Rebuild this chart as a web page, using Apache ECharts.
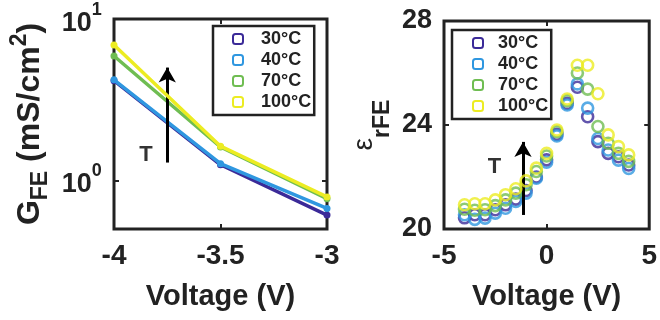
<!DOCTYPE html>
<html><head><meta charset="utf-8">
<script src="https://cdn.jsdelivr.net/npm/echarts@6/dist/echarts.min.js"></script>
<style>html,body{margin:0;padding:0;background:#fff}#c{width:660px;height:320px}</style>
</head><body><div id="c"></div>
<script>
// ---- data ----
const legendNames = ['30°C', '40°C', '70°C', '100°C'];
const colors = ['#3b2a98', '#2f97e0', '#6fbd52', '#ecec22'];
// Left panel: G_FE vs voltage (log scale)
const gVoltage = [-4, -3.5, -3];
const g30 = [4.15, 1.25, 0.61];
const g40 = [4.2, 1.27, 0.67];
const g70 = [5.9, 1.61, 0.77];
const g100 = [6.9, 1.63, 0.79];
const gTicksX = [-4, -3.5, -3];
// Right panel: eps_rFE vs voltage
const eVoltage = [-4, -3.5, -3, -2.5, -2, -1.5, -1, -0.5, 0, 0.5, 1, 1.5, 2, 2.5, 3, 3.5, 4];
const e30  = [20.43, 20.55, 20.55, 20.74, 20.93, 21.15, 21.48, 22.0, 22.66, 23.64, 24.83, 25.45, 24.32, 23.36, 22.91, 22.78, 22.46];
const e40  = [20.55, 20.37, 20.42, 20.61, 20.8, 21.06, 21.38, 21.95, 22.57, 23.58, 24.77, 25.58, 24.65, 23.48, 23.04, 22.65, 22.33];
const e70  = [20.76, 20.72, 20.74, 20.9, 21.12, 21.38, 21.7, 22.21, 22.81, 23.74, 24.93, 26.0, 25.38, 23.94, 23.3, 22.91, 22.6];
const e100 = [20.93, 20.97, 20.97, 21.12, 21.32, 21.55, 21.85, 22.34, 22.91, 23.81, 25.0, 26.3, 26.3, 25.2, 23.62, 23.17, 22.85];
// annotations (data coordinates)
const leftArrow = [[-3.75, 1.29], [-3.75, 5.0]];
const leftT = [-3.85, 1.44];
const rightArrow = [[-1.15, 20.54], [-1.15, 23.35]];
const rightT = [-2.54, 22.4];

const FONT = '"Liberation Sans", Arial, sans-serif';
const TXT = '#222';
const gSeries = [g30, g40, g70, g100];
const eSeries = [e30, e40, e70, e100];

function makeLegend(left, top, padLeft, gap) {
  return {
    left: left, top: top, padding: [4, 3, 4, padLeft],
    orient: 'vertical', icon: 'roundRect', itemWidth: 10, itemHeight: 10,
    itemGap: 3, borderColor: '#222', borderWidth: 2.5, backgroundColor: '#fff',
    formatter: n => '{g| }' + n,
    textStyle: { fontFamily: FONT, fontSize: 18, fontWeight: 'bold', color: TXT,
      rich: { g: { width: gap, fontSize: 18 } } },
    data: legendNames.map((n, i) => ({ name: n, itemStyle: { color: 'rgba(0,0,0,0)', borderColor: colors[i], borderWidth: 2 } }))
  };
}
const tick = { inside: true, length: 5, lineStyle: { color: '#222', width: 2 } };
const noLine = { show: false, onZero: false };

const option = {
  backgroundColor: '#fff',
  animation: false,
  textStyle: { fontFamily: FONT },
  grid: [
    { left: 114, right: 333, top: 19, bottom: 91, show: true, borderColor: '#222', borderWidth: 3, backgroundColor: 'transparent' },
    { left: 444, right: 5, top: 21, bottom: 91, show: true, borderColor: '#222', borderWidth: 3, backgroundColor: 'transparent' }
  ],
  legend: [ makeLegend(213, 26, 19, 13), makeLegend(452, 30, 20, 10) ],
  xAxis: [
    { gridIndex: 0, type: 'value', min: gTicksX[0], max: gTicksX[gTicksX.length - 1], interval: 0.5,
      name: 'Voltage (V)', nameLocation: 'middle', nameGap: 53,
      nameTextStyle: { fontSize: 29, fontWeight: 'bold', color: TXT },
      axisLine: noLine, splitLine: { show: false }, axisTick: tick,
      axisLabel: { margin: 13, fontSize: 28, fontWeight: 'bold', color: TXT, formatter: v => String(v) } },
    { gridIndex: 1, type: 'value', min: -5, max: 5, interval: 5,
      name: 'Voltage (V)', nameLocation: 'middle', nameGap: 53,
      nameTextStyle: { fontSize: 29, fontWeight: 'bold', color: TXT },
      axisLine: noLine, splitLine: { show: false }, axisTick: tick,
      axisLabel: { margin: 13, fontSize: 28, fontWeight: 'bold', color: TXT } },
    // mirrored ticks on top edges
    { gridIndex: 0, type: 'value', position: 'top', min: gTicksX[0], max: gTicksX[gTicksX.length - 1], interval: 0.5,
      axisLine: noLine, splitLine: { show: false }, axisTick: tick, axisLabel: { show: false } },
    { gridIndex: 1, type: 'value', position: 'top', min: -5, max: 5, interval: 5,
      axisLine: noLine, splitLine: { show: false }, axisTick: tick, axisLabel: { show: false } }
  ],
  yAxis: [
    { gridIndex: 0, type: 'log', logBase: 10, min: 0.5, max: 10,
      name: '{m|G}{sub|FE}{m| (mS/cm}{sup|2}{m|)}', nameLocation: 'middle', nameRotate: 90, nameGap: 62,
      nameTextStyle: { color: TXT,
        rich: {
          m: { fontSize: 32, fontWeight: 'bold', color: TXT, lineHeight: 44, verticalAlign: 'middle' },
          sub: { fontSize: 23, fontWeight: 'bold', color: TXT, lineHeight: 22, verticalAlign: 'bottom' },
          sup: { fontSize: 23, fontWeight: 'bold', color: TXT, lineHeight: 26, verticalAlign: 'top' }
        } },
      axisLine: noLine, splitLine: { show: false }, axisTick: tick,
      axisLabel: { margin: 12, color: TXT,
        formatter: function (v) {
          const l = Math.log10(v), e = Math.round(l);
          if (Math.abs(l - e) > 1e-6) return '';
          return '{b|10}{s|' + e + '}{z| }';
        },
        rich: {
          b: { fontSize: 27, fontWeight: 'bold', color: TXT, lineHeight: 24, verticalAlign: 'bottom' },
          s: { fontSize: 18, fontWeight: 'bold', color: TXT, lineHeight: 22, verticalAlign: 'top' },
          z: { fontSize: 1, lineHeight: 36, verticalAlign: 'middle' }
        } } },
    { gridIndex: 1, type: 'value', min: 20, max: 28, interval: 4,
      name: '{e|ε}{s|rFE}{z| }', nameLocation: 'middle', nameRotate: 90, nameGap: 50,
      nameTextStyle: { color: TXT,
        rich: {
          e: { fontSize: 28, fontWeight: 'normal', color: TXT, lineHeight: 26, verticalAlign: 'top' },
          s: { fontSize: 23, fontWeight: 'bold', color: TXT, lineHeight: 22, verticalAlign: 'bottom' },
          z: { fontSize: 1, lineHeight: 44, verticalAlign: 'middle' }
        } },
      axisLine: noLine, splitLine: { show: false }, axisTick: tick,
      axisLabel: { margin: 12, fontSize: 27, fontWeight: 'bold', color: TXT } },
    // mirrored ticks on right edges
    { gridIndex: 0, type: 'log', logBase: 10, min: 0.5, max: 10, position: 'right',
      axisLine: noLine, splitLine: { show: false }, axisTick: tick, axisLabel: { show: false } },
    { gridIndex: 1, type: 'value', min: 20, max: 28, interval: 4, position: 'right',
      axisLine: noLine, splitLine: { show: false }, axisTick: tick, axisLabel: { show: false } }
  ],
  series: []
};

legendNames.forEach((n, i) => {
  option.series.push({
    name: n, type: 'line', xAxisIndex: 0, yAxisIndex: 0,
    data: gVoltage.map((x, k) => [x, gSeries[i][k]]),
    symbol: 'circle', symbolSize: 7, showSymbol: true,
    lineStyle: { color: colors[i], width: 3.5 }, itemStyle: { color: colors[i] },
    z: 2 + i
  });
});
legendNames.forEach((n, i) => {
  option.series.push({
    name: n, type: 'scatter', xAxisIndex: 1, yAxisIndex: 1,
    data: eVoltage.map((x, k) => [x, eSeries[i][k]]),
    symbol: 'circle', symbolSize: 11,
    itemStyle: { color: 'rgba(0,0,0,0)', borderColor: colors[i], borderWidth: 2.6 },
    z: 2 + i
  });
});
// annotations: arrows and "T"
[[0, leftArrow, leftT], [1, rightArrow, rightT]].forEach(([gi, arr, tp]) => {
  option.series.push({
    name: 'annot' + gi, type: 'scatter', xAxisIndex: gi, yAxisIndex: gi,
    data: [tp], symbolSize: 1, itemStyle: { color: 'rgba(0,0,0,0)' },
    label: { show: true, position: 'inside', formatter: 'T', fontSize: 22, fontWeight: 'bold', color: '#000' },
    markLine: { silent: true, symbol: ['none', 'arrow'], symbolSize: [13, 15], animation: false,
      lineStyle: { color: '#000', width: 3, type: 'solid' },
      label: { show: false }, emphasis: { disabled: true, label: { show: false } },
      data: [[{ coord: arr[0] }, { coord: arr[1] }]] },
    z: 10
  });
});

const chart = echarts.init(document.getElementById('c'), null, { renderer: 'canvas' });
chart.setOption(option);
</script></body></html>
